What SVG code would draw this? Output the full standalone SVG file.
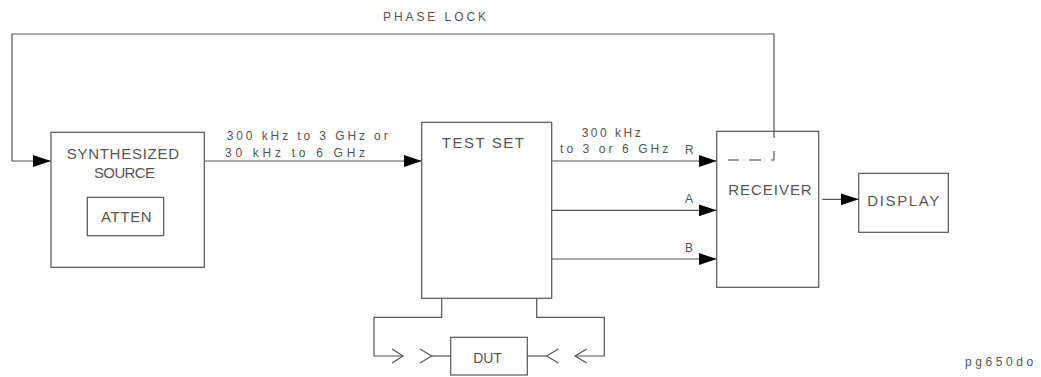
<svg xmlns="http://www.w3.org/2000/svg" width="1041" height="377" viewBox="0 0 1041 377">
<style>
  .box { fill: none; stroke: #555; stroke-width: 1.2; }
  .ln { fill: none; stroke: #555; stroke-width: 1.2; }
  .ah { fill: #000; stroke: none; }
  .t { font-family: "Liberation Sans", Arial, sans-serif; fill: #555; }
  .big { font-size: 15px; }
  .sm { font-size: 12px; }
</style>
<defs>
  <marker id="arr" viewBox="0 0 18 12" refX="18" refY="6" markerWidth="18" markerHeight="12" markerUnits="userSpaceOnUse" orient="auto">
    <path class="ah" d="M0,0 L18,6 L0,12 Z"/>
  </marker>
</defs>
<rect width="1041" height="377" fill="#fff"/>

<g id="connectors">
  <!-- phase lock loop -->
  <path class="ln" d="M774,138 L774,34 L12,34 L12,161 L51,161" marker-end="url(#arr)"/>
  <text class="t sm" x="383" y="21.3" textLength="103" lengthAdjust="spacing">PHASE LOCK</text>
  <!-- dashed inside receiver -->
  <path class="ln" d="M774,151 L774,160 L771,160"/>
  <path class="ln" d="M749,160 L761,160"/>
  <path class="ln" d="M728,160 L739,160"/>
  <!-- source to test set -->
  <path class="ln" d="M204,161 L421.7,161" marker-end="url(#arr)"/>
  <text class="t sm" x="226.7" y="140" textLength="161" lengthAdjust="spacing">300 kHz to 3 GHz or</text>
  <text class="t sm" x="225" y="156.7" textLength="140" lengthAdjust="spacing">30 kHz to 6 GHz</text>
  <!-- test set to receiver R, A, B -->
  <path class="ln" d="M551.7,161 L716.7,161" marker-end="url(#arr)"/>
  <path class="ln" d="M551.7,210.3 L716.7,210.3" marker-end="url(#arr)"/>
  <path class="ln" d="M551.7,259 L716.7,259" marker-end="url(#arr)"/>
  <text class="t sm" x="581.7" y="136.7" textLength="59" lengthAdjust="spacing">300 kHz</text>
  <text class="t sm" x="560" y="152.7" textLength="108.3" lengthAdjust="spacing">to 3 or 6 GHz</text>
  <text class="t sm" x="685" y="154">R</text>
  <text class="t sm" x="685" y="203.3">A</text>
  <text class="t sm" x="685" y="251.7">B</text>
  <!-- receiver to display -->
  <path class="ln" d="M822.3,199.3 L858.7,199.3" marker-end="url(#arr)"/>
  <!-- test port leads -->
  <path class="ln" d="M441.7,298 L441.7,317.3 L374,317.3 L374,356 L403,356"/>
  <path class="ln" d="M392,349 L403,356 L392,363"/>
  <path class="ln" d="M420,349 L431.7,356 L420,363"/>
  <path class="ln" d="M431.7,356 L450.7,356"/>
  <path class="ln" d="M536.7,298 L536.7,317.3 L604.3,317.3 L604.3,356 L575,356"/>
  <path class="ln" d="M586.7,349 L575,356 L586.7,363"/>
  <path class="ln" d="M558.3,349 L546.7,356 L558.3,363"/>
  <path class="ln" d="M527.3,356 L546.7,356"/>
</g>

<g id="synth-source">
  <rect class="box" x="51" y="132.3" width="153.3" height="135"/>
  <text class="t big" x="66.7" y="159" textLength="112.3" lengthAdjust="spacing">SYNTHESIZED</text>
  <text class="t big" x="94" y="177.7" textLength="61" lengthAdjust="spacing">SOURCE</text>
</g>

<g id="atten">
  <rect class="box" x="87.3" y="197.3" width="76.4" height="38.4"/>
  <text class="t big" x="101" y="222.3" textLength="50.7" lengthAdjust="spacing">ATTEN</text>
</g>

<g id="test-set">
  <rect class="box" x="421.7" y="122.3" width="130" height="176"/>
  <text class="t big" x="441.7" y="148.3" textLength="82.3" lengthAdjust="spacing">TEST SET</text>
</g>

<g id="receiver">
  <rect class="box" x="716.7" y="131.3" width="102" height="156"/>
  <text class="t big" x="728.3" y="195" textLength="83.4" lengthAdjust="spacing">RECEIVER</text>
</g>

<g id="display">
  <rect class="box" x="858.7" y="173.3" width="89.6" height="59"/>
  <text class="t big" x="867.3" y="206" textLength="72" lengthAdjust="spacing">DISPLAY</text>
</g>

<g id="dut">
  <rect class="box" x="450.7" y="337.3" width="76.6" height="37.7"/>
  <text class="t" style="font-size:14px" x="473.3" y="363.3" textLength="28.4" lengthAdjust="spacing">DUT</text>
</g>

<text class="t sm" x="965" y="366" textLength="68.3" lengthAdjust="spacing">pg650do</text>
</svg>
